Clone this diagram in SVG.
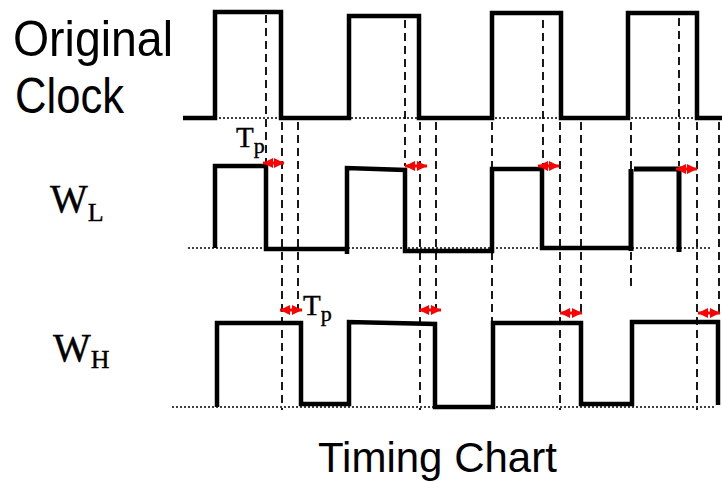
<svg xmlns="http://www.w3.org/2000/svg" width="722" height="482" viewBox="0 0 722 482">
<style>
.sig{fill:none;stroke:#000;stroke-width:4.5;stroke-linejoin:miter;stroke-linecap:butt}
.dot{fill:none;stroke:#000;stroke-width:1.5;stroke-dasharray:2 2}
.dash{fill:none;stroke:#000;stroke-width:1.8;stroke-dasharray:8 5}
.arr{stroke:#ff0000;stroke-width:3;marker-start:url(#ah);marker-end:url(#ah)}
.sans{font-family:"Liberation Sans",Arial,sans-serif;fill:#000}
.serif{font-family:"Liberation Serif","Times New Roman",serif;fill:#000;stroke:#000;stroke-width:0.4}
</style>
<defs>
<marker id="ah" viewBox="0 0 10 10" refX="10" refY="5" markerUnits="userSpaceOnUse" markerWidth="10" markerHeight="10" orient="auto-start-reverse">
<path d="M0,0 L10,5 L0,10 z" fill="#ff0000"/>
</marker>
</defs>
<rect width="722" height="482" fill="#fff"/>

<g id="guides">
<line class="dot" x1="183" y1="118" x2="722" y2="118"/>
<line class="dot" x1="188" y1="248" x2="710" y2="248"/>
<line class="dot" x1="172" y1="407" x2="714" y2="407"/>
</g>

<g id="connectors">
<line class="dash" x1="266" y1="15" x2="266" y2="164"/>
<line class="dash" x1="282" y1="122" x2="282" y2="410"/>
<line class="dash" x1="298" y1="122" x2="298" y2="312"/>
<line class="dash" x1="405" y1="20" x2="405" y2="166"/>
<line class="dash" x1="420" y1="122" x2="420" y2="410"/>
<line class="dash" x1="436" y1="122" x2="436" y2="312"/>
<line class="dash" x1="492" y1="122" x2="492" y2="322"/>
<line class="dash" x1="543" y1="20" x2="543" y2="165"/>
<line class="dash" x1="560" y1="122" x2="560" y2="410"/>
<line class="dash" x1="581" y1="122" x2="581" y2="313"/>
<line class="dash" x1="631" y1="122" x2="631" y2="287"/>
<line class="dash" x1="679" y1="18" x2="679" y2="166"/>
<line class="dash" x1="697" y1="122" x2="697" y2="410"/>
<line class="dash" x1="719" y1="122" x2="719" y2="313"/>
</g>

<g id="clock">
<path class="sig" d="M183,118 H215 V12 H281 V118 H349 V16 H419 V118 H492 V13 H561 V118 H628 V13 H697 V118 H722"/>
<text class="sans" x="13" y="56" font-size="50" textLength="160" lengthAdjust="spacingAndGlyphs">Original</text>
<text class="sans" x="15" y="113" font-size="50" textLength="109" lengthAdjust="spacingAndGlyphs">Clock</text>
</g>

<g id="wl">
<path class="sig" d="M215,248 V166 H266 V249 H347 M347,254 V168 L405,170 V251 H492 V169 H542 V248 H629"/>
<path class="sig" d="M631,251 V169 M634,169 H679 V252" style="stroke-width:5"/>
<text class="serif" x="50" y="212" font-size="40">W<tspan font-size="26" dy="9">L</tspan></text>
</g>

<g id="wh">
<path class="sig" d="M217,407 V323 H301 V404 H349 V322 L435,324 V407 H493 V323 H581 V404 H632 V322 H718 V405"/>
<text class="serif" x="53" y="361" font-size="40">W<tspan font-size="26" dy="7">H</tspan></text>
</g>

<g id="tp-arrows">
<line class="arr" x1="263" y1="163" x2="284" y2="163"/>
<line class="arr" x1="405" y1="166" x2="427" y2="166"/>
<line class="arr" x1="538" y1="166" x2="559" y2="166"/>
<line class="arr" x1="676" y1="169" x2="697" y2="169"/>
<line class="arr" x1="280" y1="310" x2="302" y2="310"/>
<line class="arr" x1="419" y1="310" x2="441" y2="310"/>
<line class="arr" x1="560" y1="313" x2="582" y2="313"/>
<line class="arr" x1="698" y1="313" x2="720" y2="313"/>
</g>

<g id="tp-labels">
<text class="serif" x="236" y="147" font-size="29">T<tspan font-size="22" dy="6">p</tspan></text>
<text class="serif" x="303" y="315" font-size="29">T<tspan font-size="22" dy="6">p</tspan></text>
</g>

<g id="title">
<text class="sans" x="318" y="472" font-size="42">Timing Chart</text>
</g>
</svg>
